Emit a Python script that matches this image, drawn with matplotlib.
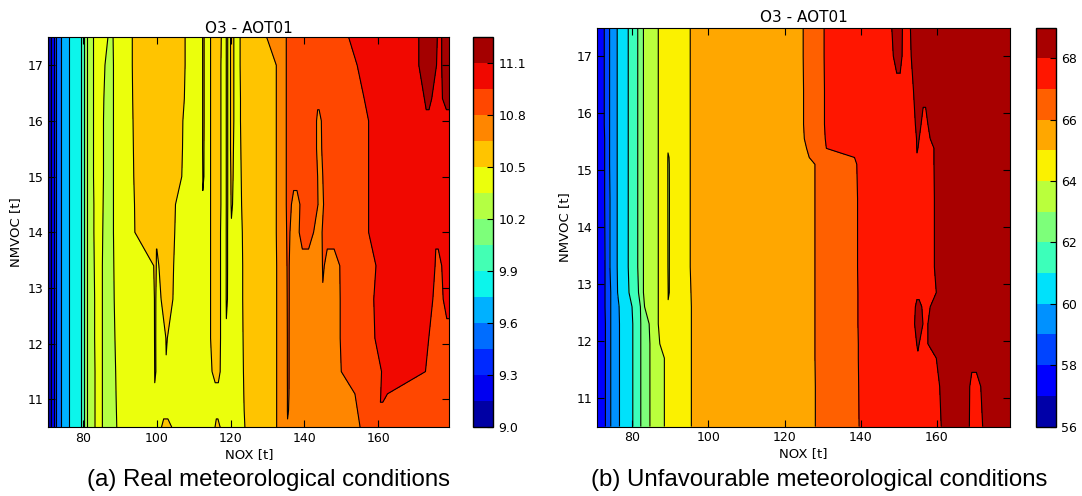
import numpy as np
import matplotlib
matplotlib.use('Agg')
import matplotlib.pyplot as plt

X_MIN, X_MAX = 70.7, 179.3
Y_MIN, Y_MAX = 10.5, 17.5

# ---- (a) real meteorological conditions ----
# each band run: value of the band and where it ends along NOX, one per row
# (None = band absent in that row)
left_rows = [10.5, 10.8, 11.1, 11.5, 12.1, 12.8, 13.4, 14.0, 14.5, 15.0, 15.5, 16.0, 16.4, 17.0, 17.5]
left_levels = [9.0, 9.15, 9.3, 9.45, 9.6, 9.75, 9.9, 10.05, 10.2, 10.35, 10.5, 10.65, 10.8, 10.95, 11.1, 11.25]
left_ticks = [9.0, 9.3, 9.6, 9.9, 10.2, 10.5, 10.8, 11.1]
left_bands = [9.075, 9.225, 9.375, 9.525, 9.675, 9.825, 9.975, 10.125, 10.275, 10.425,
              10.275, 10.425, 10.575, 10.425, 10.575, 10.425, 10.575, 10.425, 10.575, 10.425,
              10.575, 10.425, 10.575, 10.425, 10.575, 10.725, 10.875, 10.725, 10.875, 10.725,
              10.875, 10.725, 10.875, 11.025, 11.175, 11.025, 10.875, 11.025, 11.175]
left_ends = [
    71.5, 72.1, 72.7, 74.0, 76.3, 79.4, 80.2, 81.1,
    [83.3, 83.3, 83.3, 83.3, 83.2, 83.2, 83.1, 83.0, 83.0, 82.9, 82.9, 82.9, 82.9, 82.9, 82.9],
    [85.3, 85.3, 85.3, 85.3, 85.3, 85.3, 85.3, 85.4, 85.5, 85.6, 85.6, 85.6, 85.7, 86.0, 86.8],
    [89.2, 89.1, 89.0, 88.9, 88.7, 88.5, 88.4, 88.3, 88.3, 88.3, 88.3, 88.3, 88.3, 88.3, 88.2],
    [101.3, 102.5, 99.6, 99.55, 99.5, 99.45, 99.2, 94.1, 94.0, 93.8, 93.7, 93.6, 93.5, 93.4, 93.4],
    [104.1, None, None, 99.7, 99.68, 99.72, 99.9, 100, 100, 100, 100, 100, 100, 100, 100],
    [None, None, None, 102.7, 102.55, 101.2, 100.6, None, None, None, None, None, None, None, None],
    [None, None, None, None, 102.85, 104.4, 104.6, 104.9, 105.1, 106.8, 107.0, 107.1, 107.5, 107.7, 107.7],
    [112.6, 112.6, 112.6, 112.6, 112.6, 112.6, 112.6, 112.6, 112.6, 112.6, 112.5, 112.5, 112.5, 112.5, 112.5],
    [None, None, None, None, None, None, None, None, None, 112.7, 112.75, 112.8, 112.8, 112.8, 112.8],
    [115.8, 116.5, 116.7, 115.0, 114.6, 114.6, 114.6, 114.6, 114.6, 114.6, 114.6, 114.6, 114.6, 114.6, 114.6],
    [117.2, None, None, 117.2, 117.3, 117.3, 117.3, 117.3, 117.4, 117.4, 117.4, 117.4, 117.4, 117.4, 117.5],
    [119.0, 119.0, 119.0, 119.0, 119.0, 118.9, 118.9, 118.9, 118.9, 118.9, 118.9, 118.9, 118.9, 118.9, 118.9],
    [None, None, None, None, None, 119.1, 119.15, 119.15, 119.2, 119.2, 119.2, 119.2, 119.2, 119.2, 119.2],
    [120.4, 120.4, 120.4, 120.4, 120.4, 120.4, 120.4, 120.4, 120.2, 120.1, 120.0, 120.0, 120.0, 120.0, 120.0],
    [None, None, None, None, None, None, None, None, 120.5, 120.7, 120.8, 120.9, 120.9, 120.9, 120.9],
    [123.9, 123.7, 123.6, 123.5, 123.4, 123.3, 123.3, 123.2, 123.0, 122.9, 122.8, 122.7, 122.7, 122.6, 122.6],
    [132.5, 132.5, 132.5, 132.5, 132.5, 132.5, 132.5, 132.4, 132.4, 132.4, 132.4, 132.4, 132.4, 132.4, 129.8],
    [135.6, 135.5, 135.45, 135.4, 135.4, 135.35, 135.3, 135.2, 135.1, 135.1, 135.1, 135.1, 135.1, 135.1, 135.1],
    [None, 135.62, 135.8, 135.85, 135.85, 135.9, 135.9, 136.1, 136.5, 137.7, 137.7, 137.7, 137.7, 137.7, 137.7],
    [140.3, 140.3, 140.3, 140.3, 140.3, 140.3, 140.3, 138.6, 138.8, None, None, None, None, None, None],
    [None, None, None, None, None, None, None, 142.5, 143.7, 143.6, 143.3, 143.3, 143.9, 143.9, 143.9],
    [145.1, 145.1, 145.1, 145.1, 145.1, 145.1, 144.9, 144.8, 145.2, 145.0, 144.7, 144.6, None, None, None],
    [None, None, None, None, None, None, 145.4, 147.0, 147.0, 147.0, 147.0, 147.0, 147.0, 147.0, 147.0],
    [155.1, 154.4, 153.7, 150.0, 149.7, 149.7, 149.6, None, None, None, None, None, None, None, None],
    [160.5, 160.5, 160.7, 160.9, 159.1, 158.8, 159.4, 157.4, 157.4, 157.4, 157.4, 157.4, 156.2, 154.3, 152.0],
    [None, None, 162.5, 172.8, 173.7, 174.8, 175.4, 175.8, 175.0, 174.5, 174.0, 173.5, 172.5, 171.0, 171.0],
    [None, None, None, None, None, None, None, None, None, None, None, None, 174.5, 175.8, 176.0],
    [None, None, None, None, None, None, None, None, None, None, None, None, 177.4, 177.2, 177.2],
    [179.3, 179.3, 179.3, 179.3, 179.3, 177.6, 177.2, None, None, None, None, None, None, None, None],
    [None, None, None, None, None, 179.3, 179.3, 179.3, 179.3, 179.3, 179.3, 179.3, None, None, None],
    [None, None, None, None, None, None, None, None, None, None, None, None, 179.3, 179.3, 179.3],
]

# ---- (b) unfavourable meteorological conditions ----
right_rows = [10.5, 11.2, 11.7, 11.95, 12.3, 12.6, 12.85, 13.3, 14.5, 15.1, 15.22, 15.38, 15.55, 15.8, 16.4, 17.0, 17.5]
right_levels = [56, 57, 58, 59, 60, 61, 62, 63, 64, 65, 66, 67, 68, 69]
right_ticks = [56, 58, 60, 62, 64, 66, 68]
right_bands = [57.5, 58.5, 59.5, 60.5, 61.5, 62.5, 63.5, 64.5, 63.5, 64.5,
               65.5, 66.5, 67.5, 68.5, 67.5, 68.5, 67.5, 68.5, 67.5, 68.5]
right_ends = [
    [72.9, 72.9, 72.9, 72.9, 72.9, 72.8, 72.8, 72.8, 72.7, 72.7, 72.7, 72.7, 72.7, 72.6, 72.6, 72.6, 72.6],
    [74.3, 74.3, 74.3, 74.3, 74.3, 74.3, 74.3, 74.1, 74.1, 74.0, 74.0, 74.0, 74.0, 74.0, 74.0, 74.0, 74.0],
    [76.6, 76.6, 76.6, 76.6, 76.6, 76.5, 76.1, 76.0, 76.0, 76.0, 76.0, 76.0, 76.0, 76.0, 76.0, 76.0, 76.0],
    [80.1, 80.1, 80.1, 80.1, 80.1, 79.9, 79.1, 78.9, 78.9, 78.9, 78.9, 78.9, 78.9, 78.9, 78.9, 78.9, 78.9],
    [82.2, 82.2, 82.2, 82.2, 82.2, 82.1, 81.6, 81.4, 81.4, 81.4, 81.4, 81.4, 81.4, 81.4, 81.4, 81.4, 81.4],
    [84.6, 84.6, 84.6, 84.6, 84.4, 83.2, 82.9, 82.9, 82.9, 82.9, 82.9, 82.9, 82.9, 82.9, 82.9, 82.9, 82.9],
    [88.4, 88.4, 88.4, 87.2, 86.8, 86.8, 86.8, 86.8, 86.8, 86.8, 86.8, 86.8, 86.8, 86.8, 86.8, 86.8, 86.8],
    [89.5, 89.5, 89.5, 89.5, 89.5, 89.5, 89.5, 89.4, 89.35, 89.35, 89.4, 89.5, 89.5, 89.5, 89.5, 89.5, 89.5],
    [None, None, None, None, None, None, 89.6, 89.65, 89.7, 89.65, 89.55, None, None, None, None, None, None],
    [95.5, 95.5, 95.5, 95.5, 95.5, 95.5, 95.4, 95.2, 95.2, 95.2, 95.2, 95.2, 95.2, 95.2, 95.2, 95.2, 95.2],
    [128.1, 128.1, 128.0, 128.0, 128.0, 128.0, 128.0, 128.0, 128.0, 128.0, 126.5, 125.8, 125.2, 125.0, 125.0, 124.9, 124.9],
    [139.6, 139.5, 139.4, 139.4, 139.3, 139.3, 139.3, 139.2, 139.2, 139.0, 138.4, 131.0, 130.7, 130.5, 130.5, 130.4, 130.4],
    [150.4, 150.4, 150.4, 150.4, 150.4, 150.4, 150.4, 150.4, 150.4, 150.4, 150.4, 150.4, 150.4, 150.4, 150.4, 148.6, 148.2],
    [None, None, None, None, None, None, None, None, None, None, None, None, None, None, None, 150.9, 151.0],
    [155.3, 155.3, 155.3, 154.75, 154.2, 154.4, 155.2, 155.0, 155.0, 155.0, 155.0, 154.85, 154.7, 154.4, 153.9, 153.3, 153.1],
    [None, None, None, 155.4, 156.4, 156.1, None, None, None, None, None, 155.0, 155.4, 155.9, 157.0, 157.0, 157.0],
    [161.2, 160.8, 159.9, 157.7, 157.7, 158.3, 159.9, 159.4, 159.4, 159.3, 159.3, 159.3, 158.3, 157.7, None, None, None],
    [168.6, 168.7, 169.8, 169.8, 169.8, 169.8, 169.8, 169.8, 169.8, 169.8, 169.8, 169.8, 169.8, 169.8, 169.8, 169.8, 169.8],
    [172.1, 171.6, None, None, None, None, None, None, None, None, None, None, None, None, None, None, None],
    179.3,
]


def build_grid(rows, bands, ends, d=0.25):
    # turn the band runs of every row into a curvilinear grid for contourf
    X, Z = [], []
    for i in range(len(rows)):
        xs, zs = [], []
        start = X_MIN
        for v, e in zip(bands, ends):
            e = e[i] if isinstance(e, list) else e
            if e is None:
                xs += [xs[-1], xs[-1]]
                zs += [zs[-1], zs[-1]]
                continue
            h = min(d, (e - start) / 2.0)
            a = start if start <= X_MIN else start + h
            b = e if e >= X_MAX else e - h
            xs += [a, b]
            zs += [v, v]
            start = e
        X.append(xs)
        Z.append(zs)
    X = np.array(X)
    Z = np.array(Z)
    Y = np.repeat(np.array(rows)[:, None], X.shape[1], axis=1)
    return X, Y, Z


def draw(ax, cax, X, Y, Z, levels, ticks, fmt, title_pad):
    cf = ax.contourf(X, Y, Z, levels=levels, cmap='jet')
    ax.contour(X, Y, Z, levels=levels, colors='k', linewidths=0.8)
    ax.set_xlim(X_MIN, X_MAX)
    ax.set_ylim(Y_MIN, Y_MAX)
    ax.set_xticks([80, 100, 120, 140, 160])
    ax.set_yticks([11, 12, 13, 14, 15, 16, 17])
    ax.tick_params(direction='in', top=True, right=True, length=5, labelsize=9)
    ax.set_xlabel('NOX [t]', fontsize=9.5, labelpad=2)
    ax.set_ylabel('NMVOC [t]', fontsize=9.5, labelpad=4)
    ax.set_title('O3 - AOT01', fontsize=11, pad=title_pad)
    cb = fig.colorbar(cf, cax=cax, ticks=ticks, format=fmt)
    cb.ax.tick_params(direction='in', length=4, labelsize=9)
    cb.outline.set_linewidth(1)


fig = plt.figure(figsize=(10.82, 4.96), dpi=100)

ax1 = fig.add_axes([0.0448, 0.1385, 0.3706, 0.7863])
cax1 = fig.add_axes([0.4376, 0.1385, 0.0184, 0.7863])
X, Y, Z = build_grid(left_rows, left_bands, left_ends)
draw(ax1, cax1, X, Y, Z, left_levels, left_ticks, '%.1f', 3)

ax2 = fig.add_axes([0.5518, 0.1401, 0.3817, 0.8044])
cax2 = fig.add_axes([0.9571, 0.1401, 0.0192, 0.8044])
X, Y, Z = build_grid(right_rows, right_bands, right_ends)
draw(ax2, cax2, X, Y, Z, right_levels, right_ticks, '%d', 4)

fig.text(0.2485, 0.032, '(a) Real meteorological conditions', ha='center', va='center',
         fontsize=17.3, family='Liberation Sans')
fig.text(0.757, 0.032, '(b) Unfavourable meteorological conditions', ha='center', va='center',
         fontsize=17.3, family='Liberation Sans')

fig.savefig('out.png', dpi=100)
